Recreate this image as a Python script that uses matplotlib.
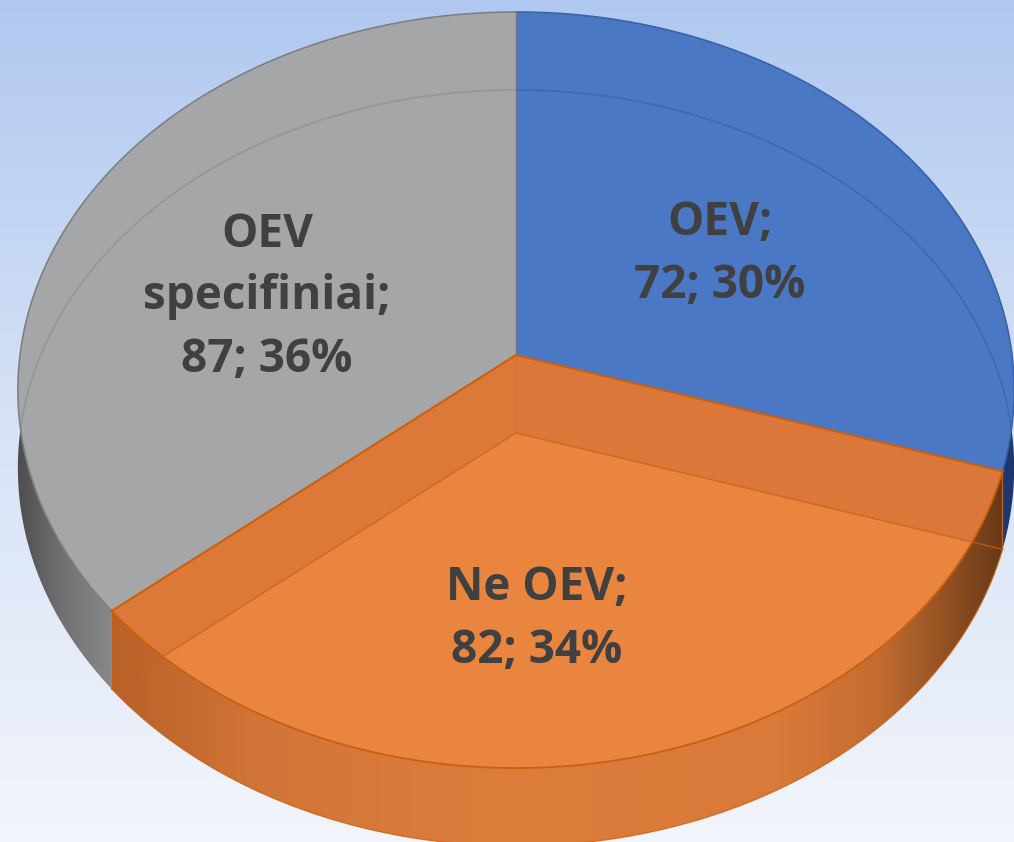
import numpy as np
import matplotlib
matplotlib.use("Agg")
import matplotlib.pyplot as plt
from matplotlib.patches import Polygon

# ---- data ----
labels = ["OEV", "Ne OEV", "OEV\nspecifiniai"]
values = [72, 82, 87]
top_colors = ["#4A78C4", "#E9853F", "#A5A6A8"]

# ---- layout ----
W, H = 1014, 842
U0, V0, A, B, K, T = 516, 355, 496, 374.8, 0.0926, 78
label_pos = [(720, 254), (537, 619), (267, 297)]

fig = plt.figure(figsize=(W / 100, H / 100), dpi=100)
ax = fig.add_axes([0, 0, 1, 1])
ax.set_xlim(0, W)
ax.set_ylim(H, 0)
ax.axis("off")

# background gradient
ys = np.linspace(0, 1, 200)
top = np.array([176, 200, 240]) / 255
mid = np.array([214, 226, 246]) / 255
bot = np.array([242, 245, 251]) / 255
bg = np.array([np.interp(ys, [0, 0.5, 1], [top[c], mid[c], bot[c]]) for c in range(3)]).T
ax.imshow(bg[:, None, :], extent=(0, W, H, 0), aspect="auto", zorder=0)


def proj(t, dz=0.0):
    t = np.radians(np.asarray(t, float))
    X = np.cos(t)
    Y = -np.sin(t)
    w = 1 - K * Y
    return U0 + A * X / w, V0 + B * Y / w + dz


def arc(t1, t2, dz=0.0, n=300):
    ts = np.linspace(t1, t2, n)
    u, v = proj(ts, dz)
    return np.column_stack([u, v])


def hgrad(stops_x, stops_c, z, clip_pts):
    xs = np.linspace(0, W, 600)
    cs = np.array(stops_c) / 255
    img = np.array([np.interp(xs, stops_x, cs[:, c]) for c in range(3)]).T
    poly = Polygon(clip_pts, closed=True, fc="none", ec="none", transform=ax.transData)
    ax.add_patch(poly)
    im = ax.imshow(img[None, :, :], extent=(0, W, H, 0), aspect="auto", zorder=z)
    im.set_clip_path(poly)


total = sum(values)
spans = [v / total * 360 for v in values]
starts = [90 - sum(spans[:i]) for i in range(len(values))]
ends = [s - sp for s, sp in zip(starts, spans)]

apex = np.array([U0, V0])
apex_b = np.array([U0, V0 + T])

blue_s, blue_e = starts[0], ends[0]
or_s, or_e = starts[1], ends[1]
gr_s, gr_e = starts[2], ends[2]

# ---- side walls (blue, gray) ----
wall_b = np.vstack([arc(blue_s, blue_e, 0), arc(blue_e, blue_s, T)])
hgrad([0, 950, 1014], [(40, 70, 130), (40, 70, 130), (30, 55, 110)], 2, wall_b)
wall_g = np.vstack([arc(gr_s, gr_e, 0), arc(gr_e, gr_s, T)])
hgrad([0, 20, 60, 125, 1014], [(70, 70, 72), (80, 80, 82), (112, 112, 114), (142, 143, 145), (142, 143, 145)], 2, wall_g)

# ---- orange slice (translucent look) ----
cr_t = np.array(proj(or_s, 0)); cr_b = np.array(proj(or_s, T))
cl_t = np.array(proj(or_e, 0)); cl_b = np.array(proj(or_e, T))
ax.add_patch(Polygon([apex, cr_t, cr_b, apex_b], closed=True, fc=(218/255, 119/255, 57/255), ec="none", zorder=3))
ax.add_patch(Polygon([apex, cl_t, cl_b, apex_b], closed=True, fc=(221/255, 121/255, 56/255), ec="none", zorder=3))
bottom_face = np.vstack([apex_b, arc(or_s, or_e, T)])
ax.add_patch(Polygon(bottom_face, closed=True, fc=top_colors[1], ec="none", zorder=4))
wall_o = np.vstack([arc(or_s, or_e, 0), arc(or_e, or_s, T)])
hgrad([0, 120, 260, 500, 780, 880, 950, 1014],
      [(180, 95, 40), (185, 98, 42), (210, 117, 56), (221, 125, 60), (217, 122, 58), (195, 108, 48), (145, 80, 33), (95, 52, 20)],
      5, wall_o)

# ---- top faces blue / gray ----
blue_poly = Polygon(np.vstack([apex, arc(blue_s, blue_e, 0)]), closed=True, fc=top_colors[0], ec="none", zorder=6)
gray_poly = Polygon(np.vstack([apex, arc(gr_s, gr_e, 0)]), closed=True, fc=top_colors[2], ec="none", zorder=6)
ax.add_patch(blue_poly)
ax.add_patch(gray_poly)

# faint see-through lines of bottom rim
ib = arc(90, blue_e, T)
l1, = ax.plot(ib[:, 0], ib[:, 1], color=(62/255, 104/255, 178/255), lw=1.2, zorder=7)
l1.set_clip_path(blue_poly)
ig = arc(90, 230, T)
l2, = ax.plot(ig[:, 0], ig[:, 1], color=(150/255, 150/255, 152/255), lw=1.2, zorder=7)
l2.set_clip_path(gray_poly)

# outlines
ob = arc(blue_s, blue_e, 0)
ax.plot(ob[:, 0], ob[:, 1], color="#3A62A8", lw=1.2, zorder=7)
og = arc(gr_s, gr_e, 0)
ax.plot(og[:, 0], og[:, 1], color="#808082", lw=1.2, zorder=7)
ax.plot([U0, U0], [V0, proj(90, 0)[1]], color="#6E7278", lw=1.0, zorder=7)

oc = "#C9600F"
oo = arc(or_s, or_e, 0)
ax.plot(oo[:, 0], oo[:, 1], color=oc, lw=1.3, zorder=7)
ob2 = arc(or_s, or_e, T)
ax.plot(ob2[:, 0], ob2[:, 1], color=oc, lw=1.0, zorder=7, alpha=0.7)
for p_t, p_b in [(cr_t, cr_b), (cl_t, cl_b)]:
    ax.plot([apex[0], p_t[0]], [apex[1], p_t[1]], color=oc, lw=1.5, zorder=7)
    ax.plot([apex_b[0], p_b[0]], [apex_b[1], p_b[1]], color=oc, lw=1.0, zorder=7, alpha=0.8)
    ax.plot([p_t[0], p_b[0]], [p_t[1], p_b[1]], color=oc, lw=1.0, zorder=7, alpha=0.8)
ax.plot([apex[0], apex_b[0]], [apex[1], apex_b[1]], color="#D06A28", lw=0.8, zorder=7, alpha=0.6)

# ---- labels ----
for lab, val, (x, y) in zip(labels, values, label_pos):
    pct = round(val / total * 100)
    ax.text(x, y, f"{lab};\n{val}; {pct}%", ha="center", va="center", fontsize=33,
            fontweight="bold", family="Open Sans", color="#404040", linespacing=1.42, zorder=10)

fig.savefig("out.png", dpi=100)
